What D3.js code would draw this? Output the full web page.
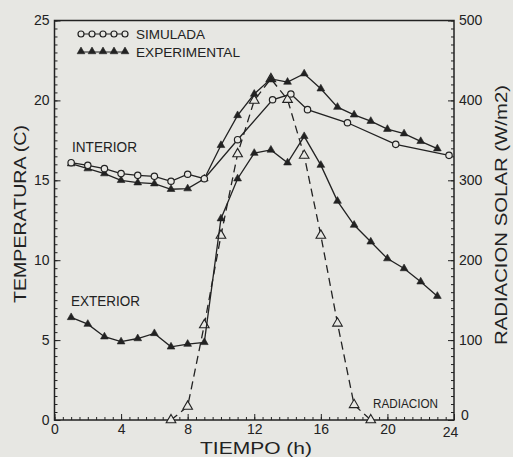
<!DOCTYPE html>
<html>
<head>
<meta charset="utf-8">
<script src="https://cdn.jsdelivr.net/npm/d3@7"></script>
<style>
	body { margin: 0; background: #e7e7e3; }
	svg text { font-family: "Liberation Sans Narrow", "Liberation Sans", Arial, sans-serif; fill: #222; }
</style>
</head>
<body>
<svg id="chart" width="513" height="457"></svg>
<script>
// hours of the measured series
var hours = [1,2,3,4,5,6,7,8,9,10,11,12,13,14,15,16,17,18,19,20,21,22,23];
var interiorExp = [16.04,15.73,15.42,15.0,14.85,14.79,14.44,14.48,15.1,17.19,19.06,20.4,21.35,21.15,21.67,20.73,19.58,19.1,18.7,18.2,17.92,17.44,16.98];
var exteriorExp = [6.42,6.0,5.21,4.9,5.1,5.42,4.58,4.75,4.86,12.6,15.1,16.7,16.9,16.1,17.75,15.95,13.7,12.2,11.15,10.1,9.48,8.65,7.75];

// simulated interior temperature
var simHours = [1,2,3,4,5,6,7,8,9,11,13.1,14.2,15.2,17.6,20.5,23.7];
var interiorSim = [16.1,15.94,15.73,15.42,15.31,15.25,14.94,15.38,15.1,17.54,20.04,20.4,19.42,18.6,17.25,16.56];

// solar radiation (W/m2)
var radHours = [7,8,9,10,11,12,13,14,15,16,17,18,19];
var radiation = [0,17,119,231,333,400,427,401,331,231,121,19,0];

var xTicks = [0,4,8,12,16,20,24];
var yTicks = [0,5,10,15,20,25];
var y2Ticks = [0,100,200,300,400,500];

var ink = '#222';
var paper = '#e7e7e3';
var svg = d3.select('#chart');

var x = d3.scaleLinear().domain([0, 24]).range([54.5, 454]);
var y = d3.scaleLinear().domain([0, 25]).range([420, 20.5]);
var y2 = d3.scaleLinear().domain([0, 500]).range([420, 20.5]);

function zip(xs, ys) {
	return xs.map(function(d, i) { return [d, ys[i]]; });
}

// axes: ticks point inwards
function styleAxis(g) {
	g.select('.domain').remove();
	g.selectAll('line').attr('stroke', ink).attr('stroke-width', 1);
	g.selectAll('text').style('font-size', '14px');
}

svg.append('g').attr('transform', 'translate(' + x(0) + ',0)')
	.call(d3.axisLeft(y).tickValues(d3.range(0, 25.01, 0.5)).tickSize(-3).tickFormat(''))
	.call(styleAxis);
svg.append('g').attr('transform', 'translate(' + x(0) + ',0)')
	.call(d3.axisLeft(y).tickValues(yTicks).tickSize(-6).tickPadding(5))
	.call(styleAxis);

svg.append('g').attr('transform', 'translate(' + x(24) + ',0)')
	.call(d3.axisRight(y2).tickValues(d3.range(0, 501, 10)).tickSize(-3).tickFormat(''))
	.call(styleAxis);
var rightAxis = svg.append('g').attr('transform', 'translate(' + x(24) + ',0)')
	.call(d3.axisRight(y2).tickValues(y2Ticks).tickSize(-6).tickPadding(5))
	.call(styleAxis);
// the corner "0" sits a bit higher so it clears the "24"
rightAxis.selectAll('.tick text').filter(function(d) { return d === 0; })
	.attr('dy', '-0.05em').attr('x', 7);

svg.append('g').attr('transform', 'translate(0,' + y(0) + ')')
	.call(d3.axisBottom(x).tickValues(d3.range(0, 24.01, 0.5)).tickSize(-3).tickFormat(''))
	.call(styleAxis);
var bottomAxis = svg.append('g').attr('transform', 'translate(0,' + y(0) + ')')
	.call(d3.axisBottom(x).tickValues(xTicks).tickSize(-6).tickPadding(4))
	.call(styleAxis);
bottomAxis.selectAll('.tick text').filter(function(d) { return d === 24; })
	.attr('x', -4).attr('dy', '0.9em');

// frame
svg.append('rect')
	.attr('x', x(0)).attr('y', y(25))
	.attr('width', x(24) - x(0)).attr('height', y(0) - y(25))
	.attr('fill', 'none').attr('stroke', ink).attr('stroke-width', 1.5);

var line = d3.line().x(function(d) { return x(d[0]); }).y(function(d) { return y(d[1]); });
var radLine = d3.line().x(function(d) { return x(d[0]); }).y(function(d) { return y2(d[1]); });

var tri = d3.symbol().type(d3.symbolTriangle).size(26);
var triOpen = d3.symbol().type(d3.symbolTriangle).size(40);

function drawSeries(pts, path, marker) {
	svg.append('path').datum(pts)
		.attr('d', path)
		.attr('fill', 'none').attr('stroke', ink).attr('stroke-width', 1.3);
	marker(svg.append('g').selectAll('g').data(pts).enter());
}

function triangles(sel, yScale) {
	sel.append('path')
		.attr('d', tri)
		.attr('transform', function(d) { return 'translate(' + x(d[0]) + ',' + yScale(d[1]) + ')'; })
		.attr('fill', ink).attr('stroke', ink).attr('stroke-width', 0.6);
}

function circles(sel) {
	sel.append('circle')
		.attr('cx', function(d) { return x(d[0]); })
		.attr('cy', function(d) { return y(d[1]); })
		.attr('r', 3.2)
		.attr('fill', paper).attr('stroke', ink).attr('stroke-width', 1.2);
}

// radiation, dashed with open triangles
svg.append('path').datum(zip(radHours, radiation))
	.attr('d', radLine)
	.attr('fill', 'none').attr('stroke', ink).attr('stroke-width', 1.3)
	.attr('stroke-dasharray', '8,5');
svg.append('g').selectAll('path').data(zip(radHours, radiation)).enter()
	.append('path')
	.attr('d', triOpen)
	.attr('transform', function(d) { return 'translate(' + x(d[0]) + ',' + y2(d[1]) + ')'; })
	.attr('fill', paper).attr('stroke', ink).attr('stroke-width', 1.1);

drawSeries(zip(hours, exteriorExp), line, function(s) { triangles(s, y); });
drawSeries(zip(hours, interiorExp), line, function(s) { triangles(s, y); });
drawSeries(zip(simHours, interiorSim), line, circles);

// legend
var legendX = [81, 92, 103, 114, 125];
svg.append('line').attr('x1', 81).attr('x2', 125).attr('y1', 34).attr('y2', 34)
	.attr('stroke', ink).attr('stroke-width', 1.2);
legendX.forEach(function(lx) {
	svg.append('circle').attr('cx', lx).attr('cy', 34).attr('r', 3)
		.attr('fill', paper).attr('stroke', ink).attr('stroke-width', 1.2);
});
svg.append('line').attr('x1', 81).attr('x2', 125).attr('y1', 52).attr('y2', 52)
	.attr('stroke', ink).attr('stroke-width', 1.2);
legendX.forEach(function(lx) {
	svg.append('path').attr('d', tri).attr('transform', 'translate(' + lx + ',51.5)')
		.attr('fill', ink).attr('stroke', ink).attr('stroke-width', 0.6);
});

function label(txt, tx, ty, size, len, rotate) {
	var t = svg.append('text')
		.attr('x', tx).attr('y', ty)
		.style('font-size', size + 'px')
		.attr('textLength', len).attr('lengthAdjust', 'spacingAndGlyphs')
		.text(txt);
	if (rotate) t.attr('transform', 'rotate(-90,' + tx + ',' + ty + ')').attr('text-anchor', 'middle');
	return t;
}

label('SIMULADA', 136, 39, 13, 69);
label('EXPERIMENTAL', 136, 56.5, 13, 104);
label('INTERIOR', 72, 152, 14, 65);
label('EXTERIOR', 71, 306, 14, 69);
label('RADIACION', 373, 408, 12, 65);

label('TEMPERATURA (C)', 26, 214, 17, 178, true);
label('RADIACION SOLAR (W/m2)', 507, 215, 17, 260, true);
label('TIEMPO (h)', 200, 454, 16, 112);
</script>
</body>
</html>
